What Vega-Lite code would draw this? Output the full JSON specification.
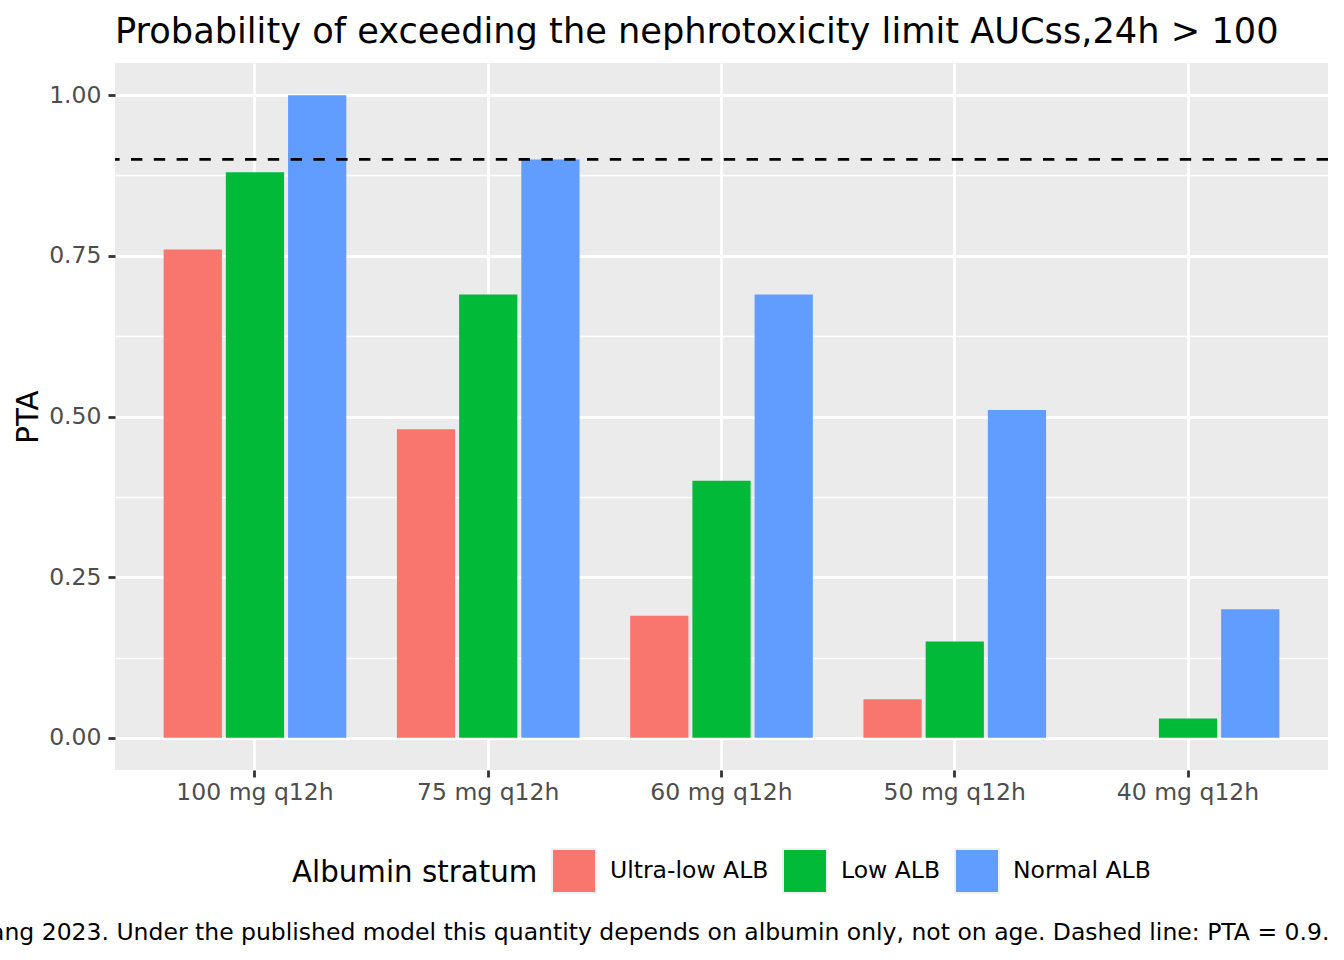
{
  "$schema": "https://vega.github.io/schema/vega-lite/v6.json",
  "background": "white",
  "padding": {"left": -10, "top": 14, "right": 16, "bottom": 12},
  "title": {
    "text": "ang 2023. Under the published model this quantity depends on albumin only, not on age. Dashed line: PTA = 0.9.",
    "orient": "bottom",
    "anchor": "end",
    "fontSize": 23.5,
    "fontWeight": "normal",
    "color": "black",
    "offset": 24
  },
  "vconcat": [
    {
      "title": {
        "text": "Probability of exceeding the nephrotoxicity limit AUCss,24h > 100",
        "anchor": "start",
        "frame": "group",
        "fontSize": 35.2,
        "fontWeight": "normal",
        "color": "black",
        "offset": 13
      },
      "width": 1213,
      "height": 707,
      "layer": [
        {
          "data": {
            "values": [
              {"dose": "100 mg q12h", "stratum": "Ultra-low ALB", "pta": 0.76},
              {"dose": "100 mg q12h", "stratum": "Low ALB", "pta": 0.88},
              {"dose": "100 mg q12h", "stratum": "Normal ALB", "pta": 1.0},
              {"dose": "75 mg q12h", "stratum": "Ultra-low ALB", "pta": 0.48},
              {"dose": "75 mg q12h", "stratum": "Low ALB", "pta": 0.69},
              {"dose": "75 mg q12h", "stratum": "Normal ALB", "pta": 0.9},
              {"dose": "60 mg q12h", "stratum": "Ultra-low ALB", "pta": 0.19},
              {"dose": "60 mg q12h", "stratum": "Low ALB", "pta": 0.4},
              {"dose": "60 mg q12h", "stratum": "Normal ALB", "pta": 0.69},
              {"dose": "50 mg q12h", "stratum": "Ultra-low ALB", "pta": 0.06},
              {"dose": "50 mg q12h", "stratum": "Low ALB", "pta": 0.15},
              {"dose": "50 mg q12h", "stratum": "Normal ALB", "pta": 0.51},
              {"dose": "40 mg q12h", "stratum": "Ultra-low ALB", "pta": 0.0},
              {"dose": "40 mg q12h", "stratum": "Low ALB", "pta": 0.03},
              {"dose": "40 mg q12h", "stratum": "Normal ALB", "pta": 0.2}
            ]
          },
          "mark": {"type": "bar"},
          "encoding": {
            "x": {
              "field": "dose",
              "type": "nominal",
              "sort": ["100 mg q12h", "75 mg q12h", "60 mg q12h", "50 mg q12h", "40 mg q12h"],
              "scale": {"paddingInner": 0.2, "paddingOuter": 0.2},
              "axis": {
                "title": null,
                "labelAngle": 0,
                "grid": true,
                "gridWidth": 2.8,
                "bandPosition": 0.5,
                "labelPadding": 3
              }
            },
            "xOffset": {
              "field": "stratum",
              "type": "nominal",
              "sort": ["Ultra-low ALB", "Low ALB", "Normal ALB"],
              "scale": {"paddingInner": 0.064, "paddingOuter": 0.032}
            },
            "y": {
              "field": "pta",
              "type": "quantitative",
              "stack": null,
              "title": "PTA",
              "scale": {"domain": [-0.05, 1.05], "nice": false, "zero": false},
              "axis": {
                "values": [0, 0.125, 0.25, 0.375, 0.5, 0.625, 0.75, 0.875, 1],
                "labelExpr": "datum.value % 0.25 === 0 ? format(datum.value, '.2f') : ''",
                "gridWidth": {"condition": {"test": "datum.value % 0.25 === 0", "value": 2.8}, "value": 1.4},
                "tickOpacity": {"condition": {"test": "datum.value % 0.25 === 0", "value": 1}, "value": 0},
                "labelPadding": 7,
                "titlePadding": 5
              }
            },
            "color": {
              "field": "stratum",
              "type": "nominal",
              "scale": {
                "domain": ["Ultra-low ALB", "Low ALB", "Normal ALB"],
                "range": ["#F8766D", "#00BA38", "#619CFF"]
              },
              "legend": {
                "title": "Albumin stratum",
                "orient": "bottom",
                "direction": "horizontal",
                "titleOrient": "left",
                "offset": 44
              }
            }
          }
        },
        {
          "data": {"values": [{"target": 0.9}]},
          "mark": {"type": "rule", "color": "black", "strokeWidth": 2.8, "strokeDash": [11.4, 11.4]},
          "encoding": {
            "y": {"field": "target", "type": "quantitative"}
          }
        }
      ]
    }
  ],
  "config": {
    "font": "DejaVu Sans",
    "view": {"fill": "#EBEBEB", "stroke": null},
    "axis": {
      "domain": false,
      "gridColor": "white",
      "gridOpacity": 1,
      "tickColor": "#333333",
      "tickWidth": 2.8,
      "tickSize": 7,
      "labelColor": "#4D4D4D",
      "labelFontSize": 23.5,
      "labelFont": "DejaVu Sans",
      "titleFont": "DejaVu Sans",
      "titleFontSize": 29.3,
      "titleFontWeight": "normal",
      "titleColor": "black"
    },
    "legend": {
      "layout": {"bottom": {"anchor": "middle"}},
      "symbolType": "square",
      "symbolSize": 1936,
      "symbolStrokeColor": "#F2F2F2",
      "symbolStrokeWidth": 2,
      "symbolOpacity": 1,
      "labelFontSize": 23.5,
      "labelColor": "black",
      "labelFont": "DejaVu Sans",
      "labelOffset": 13,
      "labelLimit": 400,
      "titleFont": "DejaVu Sans",
      "titleFontSize": 29.3,
      "titleFontWeight": "normal",
      "titleColor": "black",
      "titleLimit": 500,
      "titlePadding": 13,
      "titleBaseline": "middle",
      "columnPadding": 10
    },
    "title": {"font": "DejaVu Sans"}
  }
}
